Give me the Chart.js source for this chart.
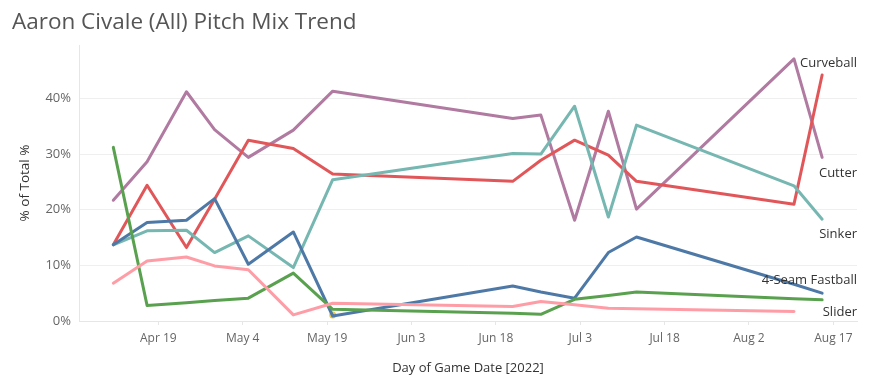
<!DOCTYPE html>
<html>
<head>
<meta charset="utf-8">
<script src="https://cdn.jsdelivr.net/npm/chart.js@4/dist/chart.umd.min.js"></script>
<style>
  html, body { margin: 0; padding: 0; background: #fff; }
  #wrap { width: 871px; height: 383px; position: relative; }
</style>
</head>
<body>
<div id="wrap"><canvas id="chart_pitchMixTrend"></canvas></div>
<script>
// data (% of pitches per start)
const gameDates = ['2022-04-11', '2022-04-17', '2022-04-24', '2022-04-29', '2022-05-05', '2022-05-13', '2022-05-20',
                   '2022-06-21', '2022-06-26', '2022-07-02', '2022-07-08', '2022-07-13', '2022-08-10', '2022-08-15'];
const curveball = [13.7, 24.4, 13.2, 21.9, 32.5, 31.0, 26.4, 25.1, 28.9, 32.5, 29.8, 25.1, 21.0, 44.2];
const cutter    = [21.7, 28.6, 41.2, 34.4, 29.4, 34.3, 41.3, 36.4, 37.0, 18.1, 37.7, 20.1, 47.1, 29.4];
const sinker    = [13.7, 16.2, 16.3, 12.3, 15.3, 9.6, 25.4, 30.1, 30.0, 38.6, 18.7, 35.2, 24.3, 18.3];
const fourSeam  = [13.7, 17.7, 18.1, 22.0, 10.2, 16.0, 0.9, 6.3, 5.2, 4.1, 12.3, 15.1, 6.6, 5.0];
const slider    = [31.2, 2.8, 3.3, 3.7, 4.1, 8.6, 2.1, 1.4, 1.2, 3.9, 4.6, 5.2, 4.0, 3.8];
const splitter  = [6.8, 10.8, 11.5, 9.9, 9.2, 1.1, 3.2, 2.6, 3.5, 2.9, 2.3, 2.2, 1.7, null];
const other     = [null, null, null, null, null, null, 1.1, null, null, null, null, null, null, null];

const tickDates  = ['2022-04-19', '2022-05-04', '2022-05-19', '2022-06-03', '2022-06-18', '2022-07-03', '2022-07-18', '2022-08-02', '2022-08-17'];
const tickLabels = ['Apr 19', 'May 4', 'May 19', 'Jun 3', 'Jun 18', 'Jul 3', 'Jul 18', 'Aug 2', 'Aug 17'];
const yTicks = [0, 10, 20, 30, 40];

function dayOfYear(s) {
    const d = new Date(s + 'T00:00:00Z');
    return (d - Date.UTC(2022, 0, 1)) / 86400000 + 1;
}
const xDays = gameDates.map(dayOfYear);
const xTickDays = tickDates.map(dayOfYear);

function series(label, values, color, endLabel, dy) {
    return {
        label: label,
        data: values.map((v, i) => ({ x: xDays[i], y: v })),
        borderColor: color,
        backgroundColor: color,
        borderWidth: 3,
        pointRadius: 0,
        borderJoinStyle: 'round',
        borderCapStyle: 'round',
        spanGaps: true,
        endLabel: endLabel,
        endLabelDy: dy
    };
}

const fontFamily = '"Open Sans", sans-serif';

var chart_pitchMixTrend = new Chart(document.getElementById('chart_pitchMixTrend'), {
    type: 'line',
    data: {
        datasets: [
            series('Splitter', splitter, '#ff9da7', null, 0),
            series('Slider', slider, '#59a14f', 'Slider', 12),
            series('4-Seam Fastball', fourSeam, '#4e79a7', '4-Seam Fastball', -13),
            series('Sinker', sinker, '#76b7b2', 'Sinker', 15),
            series('Curveball', curveball, '#e15759', 'Curveball', -12),
            series('Cutter', cutter, '#b07aa1', 'Cutter', 16),
            Object.assign(series('Other', other, '#edc948', null, 0), { pointRadius: 3.5, borderWidth: 0 })
        ]
    },
    options: {
        animation: false,
        responsive: true,
        maintainAspectRatio: false,
        layout: { padding: { top: 45, right: 14, left: 0, bottom: 0 } },
        plugins: {
            legend: { display: false },
            tooltip: { enabled: false }
        },
        scales: {
            x: {
                type: 'linear',
                min: 94.9,
                max: 233.2,
                afterFit: (scale) => { scale.height = 62; },
                afterBuildTicks: (scale) => { scale.ticks = xTickDays.map(v => ({ value: v })); },
                ticks: {
                    padding: 6,
                    maxRotation: 0,
                    autoSkip: false,
                    color: '#666',
                    font: { family: fontFamily, size: 12 },
                    callback: (v) => tickLabels[xTickDays.indexOf(v)]
                },
                grid: { drawOnChartArea: false, drawTicks: true, tickLength: 4, color: '#e6e6e6' },
                border: { display: true, color: '#e6e6e6' },
                title: {
                    display: true,
                    text: 'Day of Game Date [2022]',
                    color: '#333',
                    font: { family: fontFamily, size: 13 },
                    padding: { top: 0, bottom: 7 }
                }
            },
            y: {
                min: 0,
                max: 49.6,
                afterFit: (scale) => { scale.width = 79; },
                afterBuildTicks: (scale) => { scale.ticks = yTicks.map(v => ({ value: v })); },
                ticks: {
                    padding: 8,
                    color: '#666',
                    font: { family: fontFamily, size: 13 },
                    callback: (v) => v + '%'
                },
                grid: { drawTicks: false, color: '#efefef' },
                border: { display: true, color: '#e6e6e6' },
                title: {
                    display: true,
                    text: '% of Total %',
                    color: '#333',
                    font: { family: fontFamily, size: 13.5 },
                    padding: { top: 17, bottom: 0 }
                }
            }
        }
    },
    plugins: [{
        id: 'titleAndLabels',
        beforeDraw: (chart) => {
            const ctx = chart.ctx;
            ctx.save();
            ctx.fillStyle = 'white';
            ctx.fillRect(0, 0, chart.width, chart.height);
            ctx.restore();
        },
        afterDatasetsDraw: (chart) => {
            const ctx = chart.ctx;
            const area = chart.chartArea;
            ctx.save();
            ctx.fillStyle = '#555';
            ctx.font = '22.5px ' + fontFamily;
            ctx.textAlign = 'left';
            ctx.textBaseline = 'alphabetic';
            ctx.fillText('Aaron Civale (All) Pitch Mix Trend', 12, 29);

            ctx.fillStyle = '#333';
            ctx.font = '13px ' + fontFamily;
            ctx.textAlign = 'right';
            ctx.textBaseline = 'middle';
            chart.data.datasets.forEach((ds, i) => {
                if (!ds.endLabel) return;
                const meta = chart.getDatasetMeta(i);
                let last = null;
                ds.data.forEach((p, j) => { if (p.y !== null) last = meta.data[j]; });
                if (last) ctx.fillText(ds.endLabel, area.right, last.y + ds.endLabelDy);
            });
            ctx.restore();
        }
    }]
});
</script>
</body>
</html>
